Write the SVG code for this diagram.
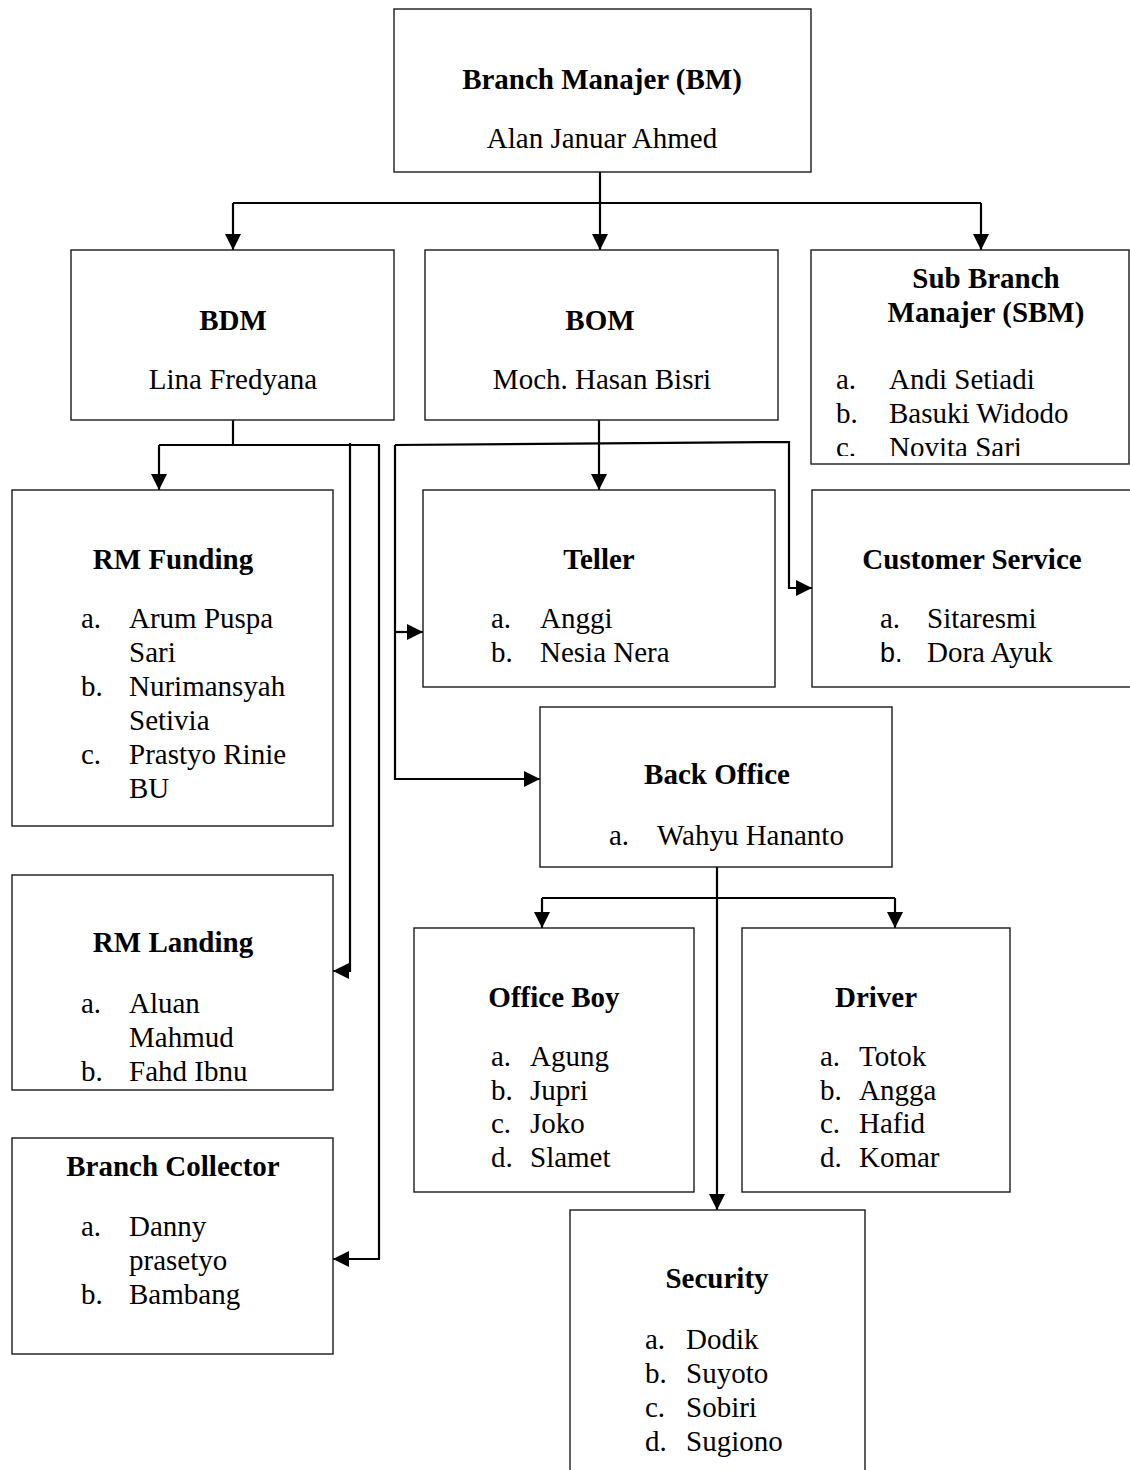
<svg xmlns="http://www.w3.org/2000/svg" width="1130" height="1470" viewBox="0 0 1130 1470">
<style>
.box{fill:#fff;stroke:#1a1a1a;stroke-width:1.4}
.t{font-family:"Liberation Serif","Times New Roman",serif;font-size:29px;fill:#000}
.b{font-weight:bold}
.c{text-anchor:middle}
.s{font-family:"Liberation Sans",Arial,sans-serif;font-size:27px}
.ln{fill:none;stroke:#000;stroke-width:2.2}
</style>
<defs>
<marker id="a" viewBox="0 0 16 16" refX="16" refY="8" markerWidth="16" markerHeight="16" orient="auto" markerUnits="userSpaceOnUse">
<path d="M0,0 L16,8 L0,16 z" fill="#000"/>
</marker>
<clipPath id="sbmclip"><rect x="811" y="250" width="320" height="206"/></clipPath>
</defs>
<rect width="1130" height="1470" fill="#fff"/>

<g id="connectors">
<path class="ln" d="M600,172 V250" marker-end="url(#a)"/>
<path class="ln" d="M233,203 H981"/>
<path class="ln" d="M233,203 V250" marker-end="url(#a)"/>
<path class="ln" d="M981,203 V250" marker-end="url(#a)"/>
<path class="ln" d="M233,420 V445"/>
<path class="ln" d="M159,445 H379 V1259 H333" marker-end="url(#a)"/>
<path class="ln" d="M159,445 V490" marker-end="url(#a)"/>
<path class="ln" d="M350,443 V971 H333" marker-end="url(#a)"/>
<path class="ln" d="M599,420 V490" marker-end="url(#a)"/>
<path class="ln" d="M395,445 L789,442 V588 H812" marker-end="url(#a)"/>
<path class="ln" d="M395,445 V779 H540" marker-end="url(#a)"/>
<path class="ln" d="M395,632 H423" marker-end="url(#a)"/>
<path class="ln" d="M717,867 V1210" marker-end="url(#a)"/>
<path class="ln" d="M542,898 H895"/>
<path class="ln" d="M542,898 V928" marker-end="url(#a)"/>
<path class="ln" d="M895,898 V928" marker-end="url(#a)"/>
</g>

<g id="bm">
<rect class="box" x="394" y="9" width="417" height="163"/>
<text class="t b c" x="602" y="89">Branch Manajer (BM)</text>
<text class="t c" x="602" y="148">Alan Januar Ahmed</text>
</g>

<g id="bdm">
<rect class="box" x="71" y="250" width="323" height="170"/>
<text class="t b c" x="233" y="330">BDM</text>
<text class="t c" x="233" y="389">Lina Fredyana</text>
</g>

<g id="bom">
<rect class="box" x="425" y="250" width="353" height="170"/>
<text class="t b c" x="600" y="330">BOM</text>
<text class="t c" x="602" y="389">Moch. Hasan Bisri</text>
</g>

<g id="sbm">
<rect class="box" x="811" y="250" width="318" height="214"/>
<text class="t b c" x="986" y="288">Sub Branch</text>
<text class="t b c" x="986" y="322">Manajer (SBM)</text>
<g clip-path="url(#sbmclip)">
<text class="t" x="836" y="389">a.</text><text class="t" x="889" y="389">Andi Setiadi</text>
<text class="t" x="836" y="423">b.</text><text class="t" x="889" y="423">Basuki Widodo</text>
<text class="t" x="836" y="457">c.</text><text class="t" x="889" y="457">Novita Sari</text>
</g>
</g>

<g id="rm-funding">
<rect class="box" x="12" y="490" width="321" height="336"/>
<text class="t b c" x="173" y="569">RM Funding</text>
<text class="t" x="81" y="628">a.</text><text class="t" x="129" y="628">Arum Puspa</text>
<text class="t" x="129" y="662">Sari</text>
<text class="t" x="81" y="696">b.</text><text class="t" x="129" y="696">Nurimansyah</text>
<text class="t" x="129" y="730">Setivia</text>
<text class="t" x="81" y="764">c.</text><text class="t" x="129" y="764">Prastyo Rinie</text>
<text class="t" x="129" y="798">BU</text>
</g>

<g id="teller">
<rect class="box" x="423" y="490" width="352" height="197"/>
<text class="t b c" x="599" y="569">Teller</text>
<text class="t" x="491" y="628">a.</text><text class="t" x="540" y="628">Anggi</text>
<text class="t" x="491" y="662">b.</text><text class="t" x="540" y="662">Nesia Nera</text>
</g>

<g id="customer-service">
<rect class="box" x="812" y="490" width="320" height="197"/>
<text class="t b c" x="972" y="569">Customer Service</text>
<text class="t" x="880" y="628">a.</text><text class="t" x="927" y="628">Sitaresmi</text>
<text class="t s" x="880" y="662">b.</text><text class="t" x="927" y="662">Dora Ayuk</text>
</g>

<g id="back-office">
<rect class="box" x="540" y="707" width="352" height="160"/>
<text class="t b c" x="717" y="784">Back Office</text>
<text class="t" x="609" y="845">a.</text><text class="t" x="657" y="845">Wahyu Hananto</text>
</g>

<g id="rm-landing">
<rect class="box" x="12" y="875" width="321" height="215"/>
<text class="t b c" x="173" y="952">RM Landing</text>
<text class="t" x="81" y="1013">a.</text><text class="t" x="129" y="1013">Aluan</text>
<text class="t" x="129" y="1047">Mahmud</text>
<text class="t" x="81" y="1081">b.</text><text class="t" x="129" y="1081">Fahd Ibnu</text>
</g>

<g id="office-boy">
<rect class="box" x="414" y="928" width="280" height="264"/>
<text class="t b c" x="554" y="1007">Office Boy</text>
<text class="t" x="491" y="1066">a.</text><text class="t" x="530" y="1066">Agung</text>
<text class="t" x="491" y="1100">b.</text><text class="t" x="530" y="1100">Jupri</text>
<text class="t" x="491" y="1133">c.</text><text class="t" x="530" y="1133">Joko</text>
<text class="t" x="491" y="1167">d.</text><text class="t" x="530" y="1167">Slamet</text>
</g>

<g id="driver">
<rect class="box" x="742" y="928" width="268" height="264"/>
<text class="t b c" x="876" y="1007">Driver</text>
<text class="t" x="820" y="1066">a.</text><text class="t" x="859" y="1066">Totok</text>
<text class="t" x="820" y="1100">b.</text><text class="t" x="859" y="1100">Angga</text>
<text class="t" x="820" y="1133">c.</text><text class="t" x="859" y="1133">Hafid</text>
<text class="t" x="820" y="1167">d.</text><text class="t" x="859" y="1167">Komar</text>
</g>

<g id="branch-collector">
<rect class="box" x="12" y="1138" width="321" height="216"/>
<text class="t b c" x="173" y="1176">Branch Collector</text>
<text class="t" x="81" y="1236">a.</text><text class="t" x="129" y="1236">Danny</text>
<text class="t" x="129" y="1270">prasetyo</text>
<text class="t" x="81" y="1304">b.</text><text class="t" x="129" y="1304">Bambang</text>
</g>

<g id="security">
<rect class="box" x="570" y="1210" width="295" height="270"/>
<text class="t b c" x="717" y="1288">Security</text>
<text class="t" x="645" y="1349">a.</text><text class="t" x="686" y="1349">Dodik</text>
<text class="t" x="645" y="1383">b.</text><text class="t" x="686" y="1383">Suyoto</text>
<text class="t" x="645" y="1417">c.</text><text class="t" x="686" y="1417">Sobiri</text>
<text class="t" x="645" y="1451">d.</text><text class="t" x="686" y="1451">Sugiono</text>
</g>
</svg>
